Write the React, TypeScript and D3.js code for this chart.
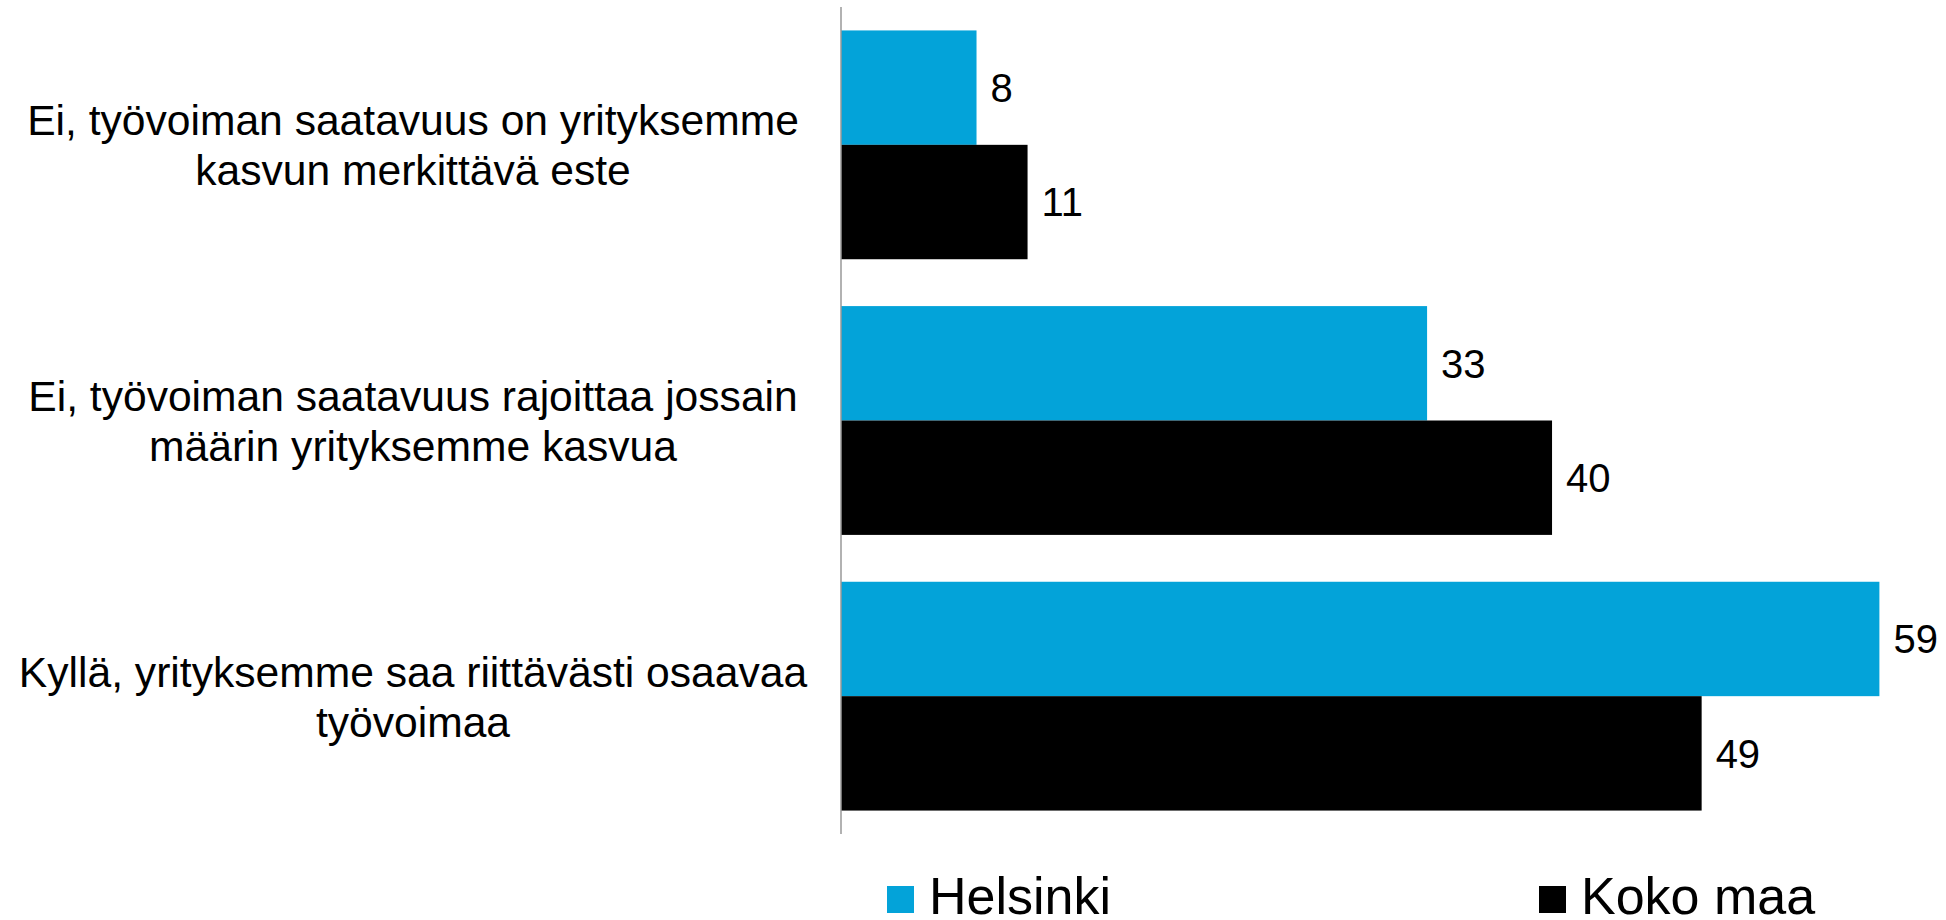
import React from 'react';
import * as d3 from 'd3';

// answer options, each split into the lines shown in the chart
const categories = [
  ['Ei, työvoiman saatavuus on yrityksemme', 'kasvun merkittävä este'],
  ['Ei, työvoiman saatavuus rajoittaa jossain', 'määrin yrityksemme kasvua'],
  ['Kyllä, yrityksemme saa riittävästi osaavaa', 'työvoimaa'],
];
const seriesNames = ['Helsinki', 'Koko maa'];
const seriesColors = ['#03a3d9', '#000000'];
// % of firms, bar lengths (labels show them rounded)
const helsinki = [7.7, 33.3, 59.0];
const kokoMaa = [10.6, 40.4, 48.9];

const W = 1946;
const H = 920;
const margin = { top: 7, bottom: 86, left: 841 };

const App: React.FC = () => {
  const x = d3.scaleLinear().domain([0, 60]).range([margin.left, margin.left + 17.6 * 60]);

  const y = d3.scaleBand<number>()
    .domain(d3.range(categories.length))
    .range([margin.top, H - margin.bottom])
    .paddingInner(0.17)
    .paddingOuter(0.085);

  const inner = d3.scaleBand<number>()
    .domain(d3.range(seriesNames.length))
    .range([0, y.bandwidth()]);

  const series = [helsinki, kokoMaa];
  const fmt = d3.format('.0f');
  const font = 'Liberation Sans, Arial, sans-serif';

  return (
    <svg width={W} height={H} style={{ position: 'absolute', left: 0, top: 0, background: '#fff' }}
      fontFamily={font}>
      {/* bars */}
      {series.map((vals, s) => (
        <g key={s}>
          {vals.map((v, i) => (
            <rect key={i}
              x={x(0)}
              y={y(i)! + inner(s)!}
              width={x(v) - x(0)}
              height={inner.bandwidth()}
              fill={seriesColors[s]} />
          ))}
          {vals.map((v, i) => (
            <text key={'l' + i}
              x={x(v) + 14}
              y={y(i)! + inner(s)! + inner.bandwidth() / 2}
              dy="0.36em"
              fontSize={40}
              fill="#000">
              {fmt(v)}
            </text>
          ))}
        </g>
      ))}

      {/* vertical axis line */}
      <line x1={x(0)} x2={x(0)} y1={margin.top} y2={H - margin.bottom} stroke="#999" strokeWidth={1.5} />

      {/* category labels */}
      {categories.map((lines, i) => {
        const cy = y(i)! + y.bandwidth() / 2;
        const lh = 50;
        return (
          <text key={i} x={413} textAnchor="middle" fontSize={42.6} fill="#000">
            {lines.map((ln, j) => (
              <tspan key={j} x={413} y={cy + (j - (lines.length - 1) / 2) * lh} dy="0.36em">{ln}</tspan>
            ))}
          </text>
        );
      })}

      {/* legend */}
      {seriesNames.map((name, s) => {
        const lx = [887, 1539][s];
        return (
          <g key={name}>
            <rect x={lx} y={886} width={27} height={27} fill={seriesColors[s]} />
            <text x={lx + 42} y={914} fontSize={52} fill="#000">{name}</text>
          </g>
        );
      })}
    </svg>
  );
};

export default App;
